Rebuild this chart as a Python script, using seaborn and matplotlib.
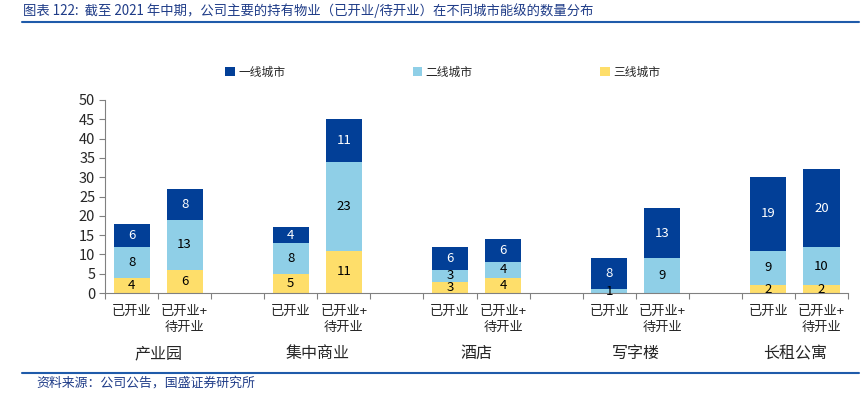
import numpy as np
import pandas as pd
import matplotlib
matplotlib.use("Agg")
import matplotlib.pyplot as plt
from matplotlib.patches import Patch
from matplotlib.lines import Line2D
import seaborn as sns

# data
groups = ["产业园", "集中商业", "酒店", "写字楼", "长租公寓"]
bar_types = ["已开业", "已开业+\n待开业"]
tier1 = [6, 8, 4, 11, 6, 6, 8, 13, 19, 20]
tier2 = [8, 13, 8, 23, 3, 4, 1, 9, 9, 10]
tier3 = [4, 6, 5, 11, 3, 4, 0, 0, 2, 2]
series_names = ["一线城市", "二线城市", "三线城市"]
colors = ["#023F97", "#8FCFE7", "#FEDE6A"]

sns.set_theme(style="white")
plt.rcParams["font.family"] = ["Noto Sans CJK SC", "DejaVu Sans"]

# slot order: two bars per group then an empty slot
slots = []
for g in groups:
    slots += [f"{g}|0", f"{g}|1", f"{g}|gap"]
slots = slots[:-1]

keys = [f"{g}|{b}" for g in groups for b in range(2)]
df = pd.DataFrame({"slot": keys, "t1": tier1, "t2": tier2, "t3": tier3})
df["s3"] = df["t3"]
df["s2"] = df["t3"] + df["t2"]
df["s1"] = df["s2"] + df["t1"]

fig = plt.figure(figsize=(8.68, 3.95), dpi=100)
ax = fig.add_axes([0.121, 0.258, 0.856, 0.489])

for col, c in zip(["s1", "s2", "s3"], colors):
    sns.barplot(data=df, x="slot", y=col, order=slots, color=c, width=0.68,
                saturation=1, edgecolor="none", ax=ax)

# segment labels
pos = {s: i for i, s in enumerate(slots)}
for _, r in df.iterrows():
    x = pos[r["slot"]]
    segs = [(0, r["t3"], "black"), (r["s3"], r["t2"], "black"), (r["s2"], r["t1"], "white")]
    for bottom, v, tc in segs:
        if v > 0:
            ax.text(x, bottom + v / 2, str(int(v)), ha="center", va="center",
                    fontsize=9.5, color=tc)

ax.set_xlim(-0.5, len(slots) - 0.5)
ax.set_ylim(0, 50)
ax.set_yticks(range(0, 51, 5))
ax.set_xlabel("")
ax.set_ylabel("")
ax.set_xticks([])
ax.set_xticks(np.arange(-0.5, len(slots), 1), minor=True)
ax.tick_params(axis="x", which="minor", length=4, color="#808080", width=0.8, bottom=True)
ax.tick_params(axis="y", length=4, color="#808080", width=0.8, left=True, labelsize=10.5, pad=3)
for side in ["top", "right"]:
    ax.spines[side].set_visible(False)
for side in ["left", "bottom"]:
    ax.spines[side].set_color("#808080")
    ax.spines[side].set_linewidth(0.8)

# category labels
for gi, g in enumerate(groups):
    for b, lab in enumerate(bar_types):
        ax.text(pos[f"{g}|{b}"], -3.2, lab, ha="center", va="top", fontsize=9.5,
                linespacing=1.25)
    ax.text(pos[f"{g}|0"] + 0.5, -13.5, g, ha="center", va="top", fontsize=11.5)

# legend
handles = [Patch(facecolor=c, edgecolor="none") for c in colors]
fig.legend(handles, series_names, loc="center", bbox_to_anchor=(0.51, 0.817), ncol=3,
           frameon=False, fontsize=8.5, handlelength=0.8, handleheight=0.8,
           handletextpad=0.3, columnspacing=10.8)

# title, rules, source
fig.text(0.027, 0.972, "图表 122:  截至 2021 年中期，公司主要的持有物业（已开业/待开业）在不同城市能级的数量分布",
         fontsize=9.6, color="#1F3C88", style="italic", va="center")
fig.add_artist(Line2D([0.025, 0.99], [0.945, 0.945], color="#1F5BAA", lw=1.5))
fig.add_artist(Line2D([0.025, 0.99], [0.055, 0.055], color="#1F5BAA", lw=1.5))
fig.text(0.042, 0.03, "资料来源：公司公告，国盛证券研究所", fontsize=9.3, color="#1F3C88",
         style="italic", va="center")

fig.savefig("out.png", dpi=100)
